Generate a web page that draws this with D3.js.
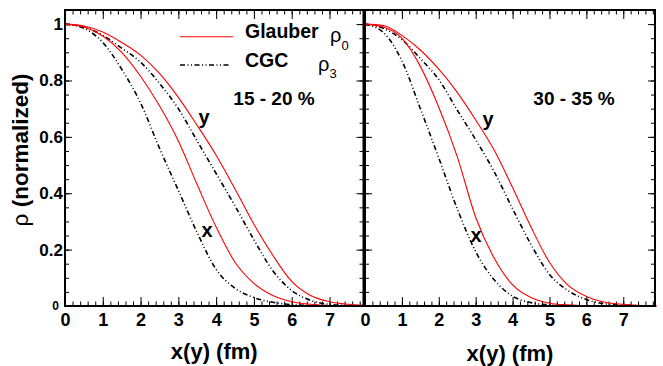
<!DOCTYPE html>
<html>
<head>
<meta charset="utf-8">
<script src="https://cdn.jsdelivr.net/npm/d3@7"></script>
<style>
  body { margin: 0; background: #fff; }
  svg { display: block; font-family: "Liberation Sans", Arial, sans-serif; }
</style>
</head>
<body>
<svg id="chart" width="663" height="366"></svg>
<script>
// sample positions x(y) in fm
const xs = [0, 0.5, 1, 1.5, 2, 2.5, 3, 3.5, 4, 4.5, 5, 5.5, 6, 6.5, 7, 7.5, 7.9];

// 15 - 20 %
const glauberX15 = [1.0, 0.99, 0.958, 0.90, 0.815, 0.71, 0.585, 0.43, 0.28, 0.155, 0.08, 0.037, 0.015, 0.006, 0.002, 0.001, 0];
const glauberY15 = [1.0, 0.993, 0.972, 0.935, 0.89, 0.825, 0.74, 0.64, 0.535, 0.415, 0.29, 0.18, 0.087, 0.037, 0.015, 0.006, 0.003];
const cgcX15     = [1.0, 0.985, 0.935, 0.84, 0.72, 0.56, 0.41, 0.26, 0.13, 0.063, 0.03, 0.013, 0.005, 0.002, 0.001, 0, 0];
const cgcY15     = [1.0, 0.99, 0.96, 0.915, 0.865, 0.79, 0.70, 0.585, 0.47, 0.355, 0.235, 0.125, 0.055, 0.02, 0.006, 0.002, 0];

// 30 - 35 %
const glauberX30 = [1.0, 0.99, 0.95, 0.85, 0.705, 0.53, 0.315, 0.17, 0.075, 0.03, 0.01, 0.004, 0.001, 0, 0, 0, 0];
const glauberY30 = [1.0, 0.995, 0.96, 0.908, 0.84, 0.758, 0.66, 0.553, 0.42, 0.28, 0.155, 0.074, 0.034, 0.013, 0.006, 0.002, 0.001];
const cgcX30     = [1.0, 0.97, 0.87, 0.70, 0.525, 0.345, 0.193, 0.093, 0.035, 0.012, 0.004, 0.001, 0, 0, 0, 0, 0];
const cgcY30     = [1.0, 0.985, 0.945, 0.878, 0.803, 0.695, 0.59, 0.477, 0.345, 0.218, 0.112, 0.055, 0.023, 0.008, 0.003, 0.001, 0];

const xTicks = [0, 1, 2, 3, 4, 5, 6, 7];
const yTicks = [0, 0.2, 0.4, 0.6, 0.8, 1];
const centralities = ["15 - 20 %", "30 - 35 %"];

const svg = d3.select('#chart');
const top_ = 10, bottom = 306;
const FONT = '"Liberation Sans", Arial, sans-serif';
const DASH = '5,2.5,1,2.5,1,2.5';

const y = d3.scaleLinear().domain([0, 1.05]).range([bottom, top_]);

const panels = [
  { x0: 65, x1: 363.5, xmax: 7.9, yLabels: true, tag: centralities[0],
    curves: [glauberX15, glauberY15, cgcX15, cgcY15],
    tagPos: [274, 105], yPos: [204, 124], xPos: [207, 237], titleY: 359 },
  { x0: 365, x1: 655, xmax: 7.86, yLabels: false, tag: centralities[1],
    curves: [glauberX30, glauberY30, cgcX30, cgcY30],
    tagPos: [574, 105], yPos: [488, 126], xPos: [476, 242], titleY: 361 }
];

function minorTicks(step, max) {
  const t = [];
  for (let i = 0; i * step <= max + 1e-9; i++) t.push(+(i * step).toFixed(3));
  return t;
}

function styleAxis(g) {
  g.select('.domain').remove();
  g.selectAll('line').attr('stroke', '#000').attr('stroke-width', 1);
}

panels.forEach(p => {
  const x = d3.scaleLinear().domain([0, p.xmax]).range([p.x0, p.x1]);
  const g = svg.append('g');

  // minor ticks
  const xm = minorTicks(0.2, p.xmax);
  const ym = minorTicks(0.05, 1.05);
  g.append('g').attr('transform', `translate(0,${bottom})`)
    .call(d3.axisBottom(x).tickValues(xm).tickSize(-4.5).tickFormat(''))
    .call(styleAxis);
  g.append('g').attr('transform', `translate(0,${top_})`)
    .call(d3.axisTop(x).tickValues(xm).tickSize(-4.5).tickFormat(''))
    .call(styleAxis);
  g.append('g').attr('transform', `translate(${p.x0},0)`)
    .call(d3.axisLeft(y).tickValues(ym).tickSize(-4).tickFormat(''))
    .call(styleAxis);
  g.append('g').attr('transform', `translate(${p.x1},0)`)
    .call(d3.axisRight(y).tickValues(ym).tickSize(-4).tickFormat(''))
    .call(styleAxis);

  // major ticks + labels
  g.append('g').attr('transform', `translate(0,${bottom})`)
    .call(d3.axisBottom(x).tickValues(xTicks).tickSize(-9).tickPadding(7).tickFormat(d3.format('d')))
    .call(styleAxis)
    .call(a => a.selectAll('text').attr('font-family', FONT).attr('font-weight', 'bold')
      .attr('font-size', 18).attr('fill', '#000'));
  g.append('g').attr('transform', `translate(0,${top_})`)
    .call(d3.axisTop(x).tickValues(xTicks).tickSize(-9).tickFormat(''))
    .call(styleAxis);
  g.append('g').attr('transform', `translate(${p.x0},0)`)
    .call(d3.axisLeft(y).tickValues(yTicks).tickSize(-7).tickPadding(2)
      .tickFormat(p.yLabels ? (d => d === 0 ? '0' : d3.format('.1~f')(d)) : ''))
    .call(styleAxis)
    .call(a => a.selectAll('text').attr('font-family', FONT).attr('font-weight', 'bold')
      .attr('font-size', d => d === 0 ? 12 : 17).attr('fill', '#000')
      .attr('dx', d => d === 0 ? -4 : 0));
  g.append('g').attr('transform', `translate(${p.x1},0)`)
    .call(d3.axisRight(y).tickValues(yTicks).tickSize(-7).tickFormat(''))
    .call(styleAxis);

  // curves
  const line = d3.line()
    .x((d, i) => x(xs[i]))
    .y(d => y(d))
    .curve(d3.curveMonotoneX);

  const styles = [
    { stroke: '#ff0000', w: 1.1, dash: null },
    { stroke: '#ff0000', w: 1.1, dash: null },
    { stroke: '#000', w: 1.6, dash: DASH },
    { stroke: '#000', w: 1.6, dash: DASH }
  ];
  [2, 3, 0, 1].forEach(i => {
    g.append('path')
      .attr('d', line(p.curves[i]))
      .attr('fill', 'none')
      .attr('stroke', styles[i].stroke)
      .attr('stroke-width', styles[i].w)
      .attr('stroke-dasharray', styles[i].dash);
  });

  // frame
  g.append('rect')
    .attr('x', p.x0).attr('y', top_)
    .attr('width', p.x1 - p.x0).attr('height', bottom - top_)
    .attr('fill', 'none').attr('stroke', '#000').attr('stroke-width', 2);

  const txt = (tx, ty, s, size) => g.append('text')
    .attr('x', tx).attr('y', ty).attr('font-family', FONT).attr('font-weight', 'bold')
    .attr('font-size', size).attr('text-anchor', 'middle').text(s);

  txt(p.tagPos[0], p.tagPos[1], p.tag, 19);
  txt(p.yPos[0], p.yPos[1], 'y', 20);
  txt(p.xPos[0], p.xPos[1], 'x', 20);
  txt((p.x0 + p.x1) / 2, p.titleY, 'x(y) (fm)', 22);
});

// legend
const leg = svg.append('g');
leg.append('line').attr('x1', 180).attr('x2', 233).attr('y1', 36.7).attr('y2', 36.7)
  .attr('stroke', '#ff0000').attr('stroke-width', 1.1);
leg.append('line').attr('x1', 180).attr('x2', 230).attr('y1', 65).attr('y2', 65)
  .attr('stroke', '#000').attr('stroke-width', 1.6).attr('stroke-dasharray', DASH);

function legText(tx, ty, label) {
  leg.append('text').attr('x', tx).attr('y', ty).attr('font-family', FONT)
    .attr('font-weight', 'bold').attr('font-size', 19.5).text(label);
}
function rho(tx, ty, sub, dsub) {
  const t = leg.append('text').attr('x', tx).attr('y', ty).attr('font-family', FONT)
    .attr('font-size', 20);
  t.append('tspan').text('ρ');
  t.append('tspan').attr('dy', dsub).attr('font-size', 13).text(sub);
}
legText(245, 38, 'Glauber');
rho(330, 42, '0', 8);
legText(245, 67, 'CGC');
rho(318, 71, '3', 7);

// y axis title
svg.append('text')
  .attr('transform', 'translate(28,150) rotate(-90)')
  .attr('text-anchor', 'middle')
  .attr('font-family', FONT).attr('font-size', 22.5)
  .call(t => {
    t.append('tspan').attr('font-weight', 'normal').text('ρ ');
    t.append('tspan').attr('font-weight', 'bold').text('(normalized)');
  });
</script>
</body>
</html>
